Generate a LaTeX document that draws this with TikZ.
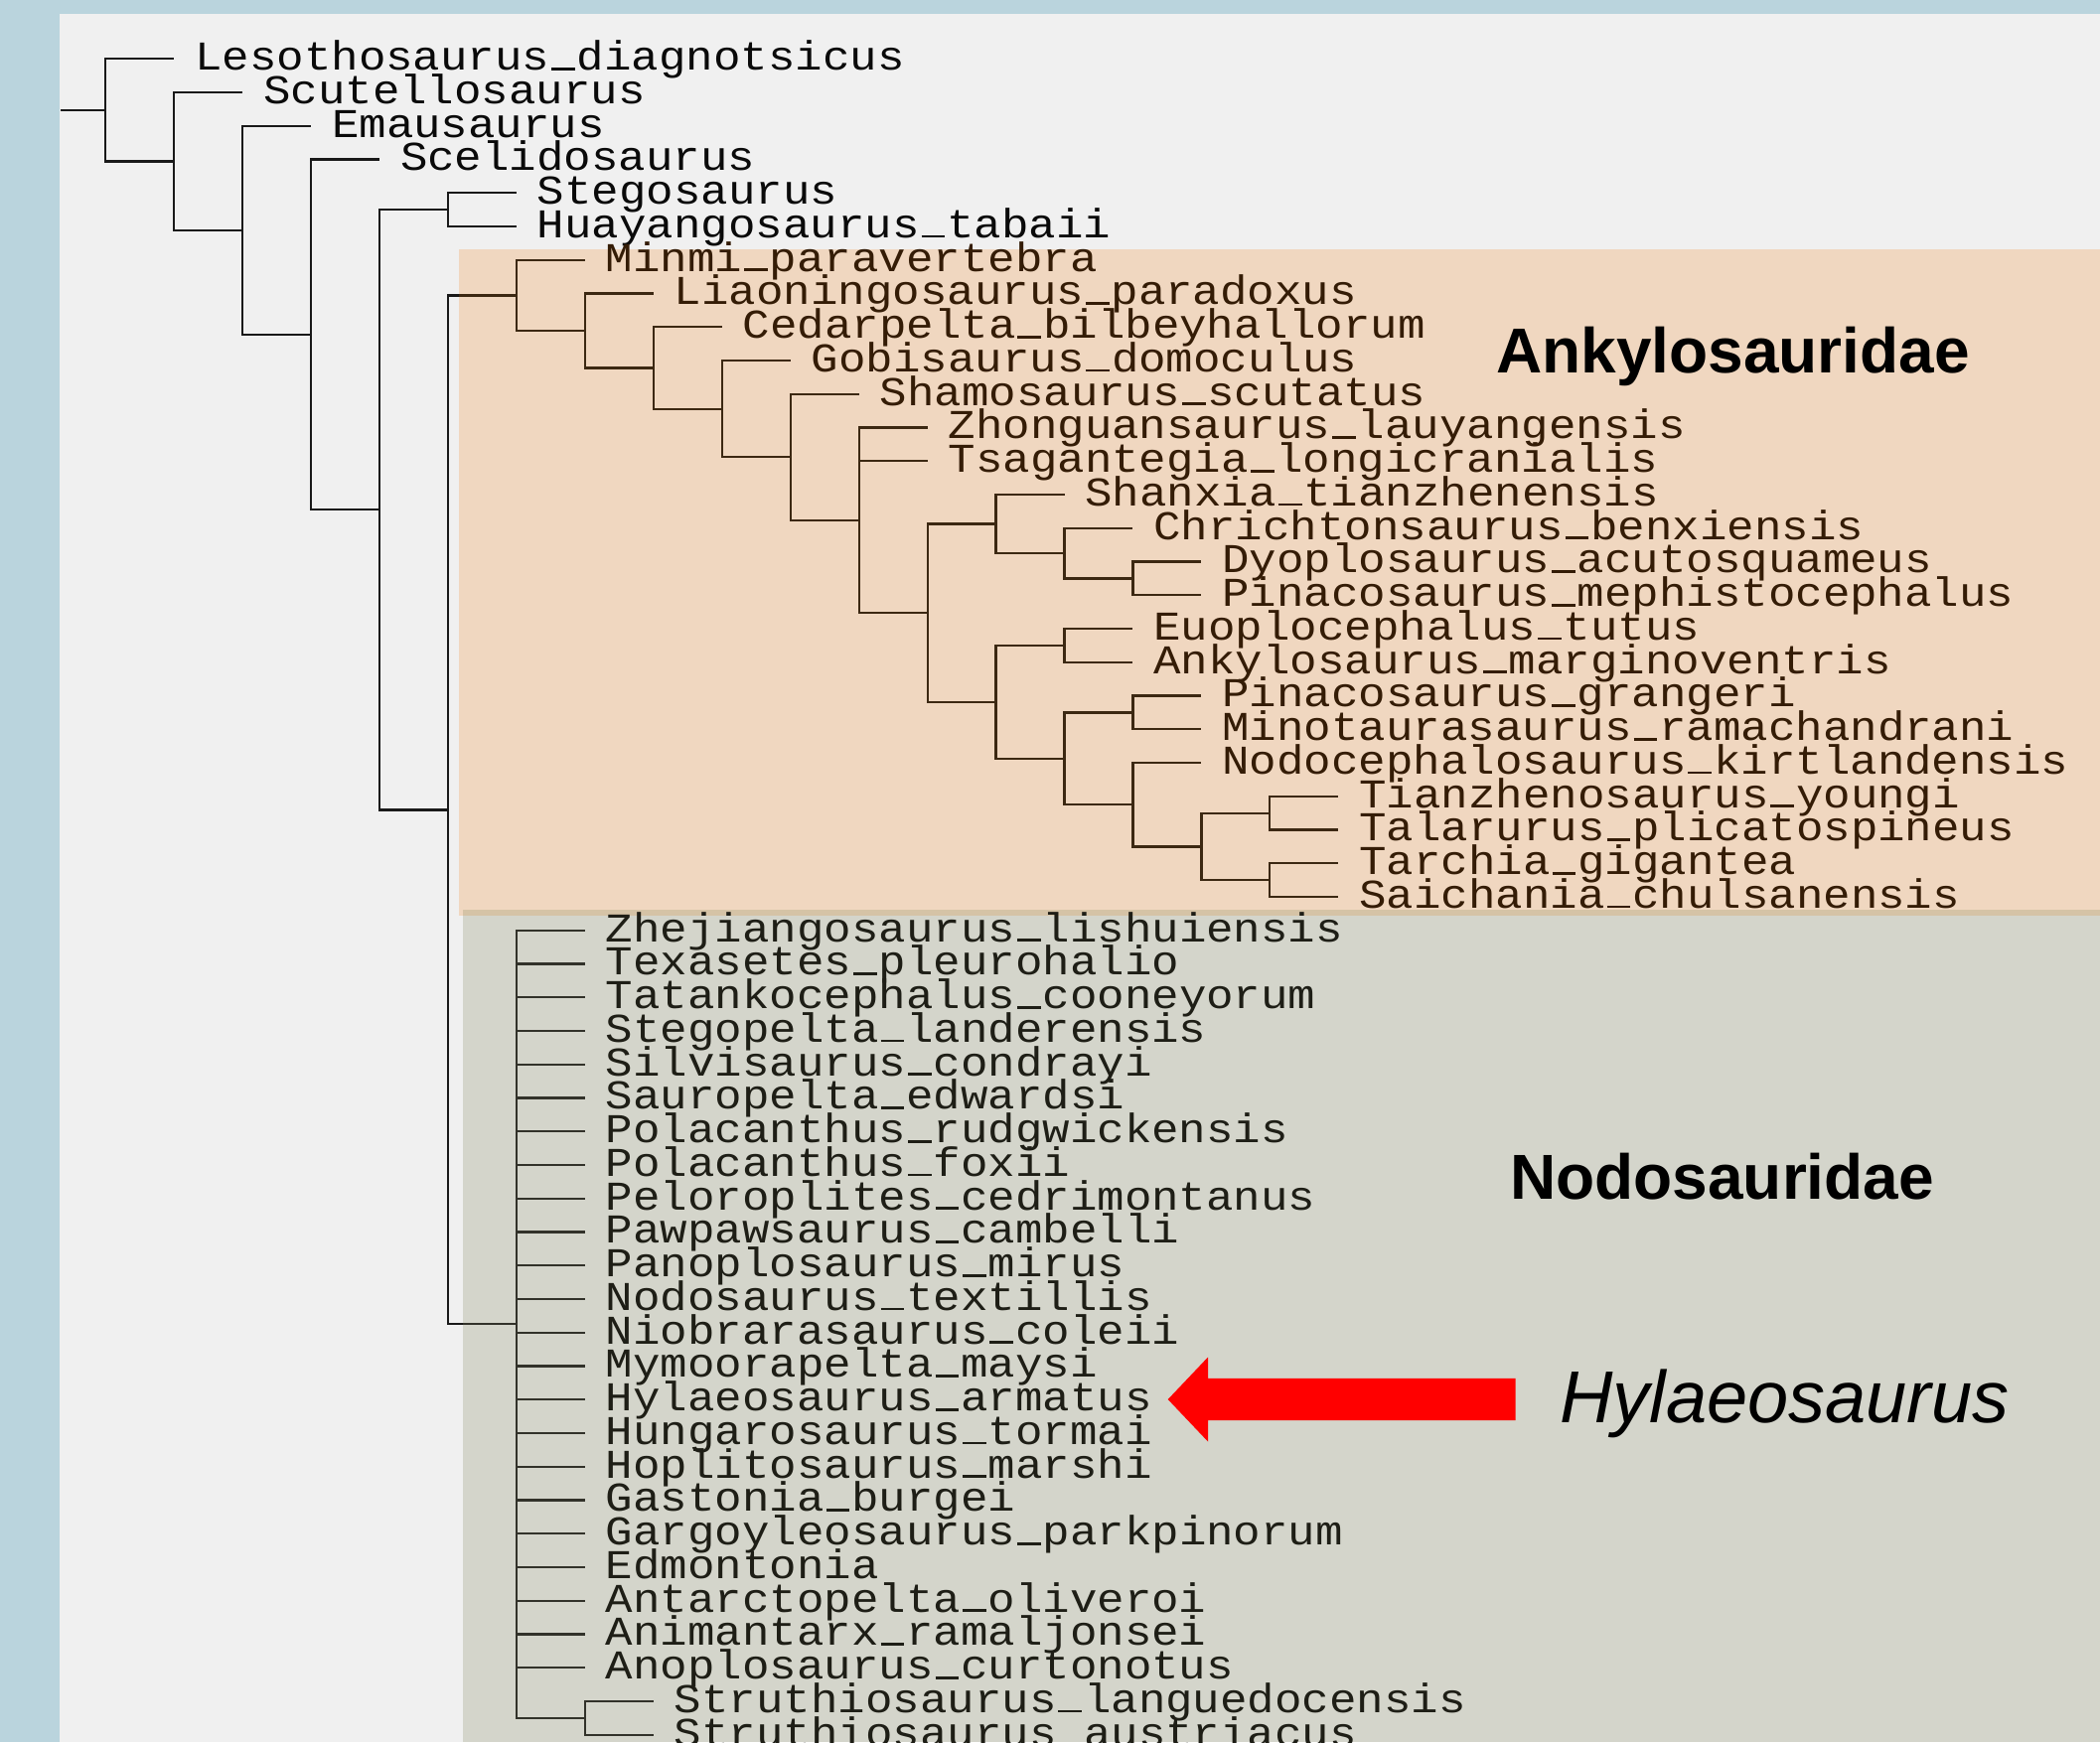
\documentclass[tikz,border=0pt]{standalone}
\usepackage{fontspec}
\usepackage{graphicx}
\setmainfont{Liberation Sans}
\newfontfamily\treemono{Liberation Mono}
\usetikzlibrary{calc}

\definecolor{bordblue}{RGB}{186,212,221}
\definecolor{panel}{RGB}{240,240,240}
\definecolor{ankbg}{RGB}{240,215,192}
\definecolor{nodbg}{RGB}{212,213,203}
\definecolor{overlapbg}{RGB}{213,195,166}
\definecolor{inktop}{RGB}{10,10,10}
\definecolor{inkank}{RGB}{52,28,6}
\definecolor{inknod}{RGB}{30,30,22}
\definecolor{linetop}{RGB}{25,25,25}
\definecolor{lineank}{RGB}{60,40,18}
\definecolor{linenod}{RGB}{50,50,42}
\definecolor{arrowred}{RGB}{255,0,0}

\newcommand\LV[1]{106.2+(#1-1)*68.95}
\newcommand\RW[1]{59.3+(#1-1)*33.75}
% taxon text: underscore drawn as a bar sitting on the baseline
\newcommand\baseus{\makebox[0.6em][c]{\rule{0.52em}{3pt}}}
\newcommand\taxtext[1]{\begingroup\let\_\baseus\scalebox{1}[0.9]{#1}\endgroup}
% leaf: name, level of line end, row, text
\newcommand\tip[4]{%
  \coordinate (#1) at ({\LV{#2}},{\RW{#3}});
  \node[curtax] (#1-t) at ($(#1)+(21,11.3)$) {\taxtext{#4}};}
% clade: name, first child, last child
\newcommand\clade[3]{%
  \coordinate (#1) at ($(#2)!0.5!(#3)+(-68.95,0)$);}

\tikzset{
  taxon/.style={font={\treemono\fontsize{45.8}{50}\selectfont}, anchor=base west, inner sep=0pt, outer sep=0pt},
  branch/.style={line width=2.2pt},
  grouplabel/.style={font={\fontsize{64}{70}\selectfont\bfseries}, anchor=base west, inner sep=0pt, text=black},
  genuslabel/.style={font={\fontsize{74}{80}\selectfont\itshape}, anchor=base west, inner sep=0pt, text=black},
}

\begin{document}
\begin{tikzpicture}[x=1pt,y=-1pt]
\useasboundingbox (0,0) rectangle (2114,1754);
% backgrounds
\fill[bordblue] (0,0) rectangle (2114,1754);
\fill[panel] (60,14) rectangle (2114,1754);
\fill[ankbg] (462,251) rectangle (2114,922);
\fill[nodbg] (466,916) rectangle (2114,1754);
\fill[overlapbg] (466,916) rectangle (2114,922);

% ---- leaves: outgroups
\tikzset{curtax/.style={taxon,text=inktop}}
\tip{leso}{2}{1}{Lesothosaurus\_diagnotsicus}
\tip{scut}{3}{2}{Scutellosaurus}
\tip{emau}{4}{3}{Emausaurus}
\tip{sceli}{5}{4}{Scelidosaurus}
\tip{stego}{7}{5}{Stegosaurus}
\tip{huay}{7}{6}{Huayangosaurus\_tabaii}

% ---- leaves: Ankylosauridae
\tikzset{curtax/.style={taxon,text=inkank}}
\tip{minmi}{8}{7}{Minmi\_paravertebra}
\tip{liao}{9}{8}{Liaoningosaurus\_paradoxus}
\tip{cedar}{10}{9}{Cedarpelta\_bilbeyhallorum}
\tip{gobi}{11}{10}{Gobisaurus\_domoculus}
\tip{shamo}{12}{11}{Shamosaurus\_scutatus}
\tip{zhong}{13}{12}{Zhonguansaurus\_lauyangensis}
\tip{tsag}{13}{13}{Tsagantegia\_longicranialis}
\tip{shanx}{15}{14}{Shanxia\_tianzhenensis}
\tip{chri}{16}{15}{Chrichtonsaurus\_benxiensis}
\tip{dyop}{17}{16}{Dyoplosaurus\_acutosquameus}
\tip{pinm}{17}{17}{Pinacosaurus\_mephistocephalus}
\tip{euop}{16}{18}{Euoplocephalus\_tutus}
\tip{ankm}{16}{19}{Ankylosaurus\_marginoventris}
\tip{ping}{17}{20}{Pinacosaurus\_grangeri}
\tip{mino}{17}{21}{Minotaurasaurus\_ramachandrani}
\tip{nodoc}{17}{22}{Nodocephalosaurus\_kirtlandensis}
\tip{tian}{19}{23}{Tianzhenosaurus\_youngi}
\tip{tala}{19}{24}{Talarurus\_plicatospineus}
\tip{tarc}{19}{25}{Tarchia\_gigantea}
\tip{saic}{19}{26}{Saichania\_chulsanensis}

% ---- leaves: Nodosauridae
\tikzset{curtax/.style={taxon,text=inknod}}
\foreach \nm [count=\i from 27] in {Zhejiangosaurus\_lishuiensis, Texasetes\_pleurohalio,
  Tatankocephalus\_cooneyorum, Stegopelta\_landerensis, Silvisaurus\_condrayi,
  Sauropelta\_edwardsi, Polacanthus\_rudgwickensis, Polacanthus\_foxii,
  Peloroplites\_cedrimontanus, Pawpawsaurus\_cambelli, Panoplosaurus\_mirus,
  Nodosaurus\_textillis, Niobrarasaurus\_coleii, Mymoorapelta\_maysi,
  Hylaeosaurus\_armatus, Hungarosaurus\_tormai, Hoplitosaurus\_marshi,
  Gastonia\_burgei, Gargoyleosaurus\_parkpinorum, Edmontonia,
  Antarctopelta\_oliveroi, Animantarx\_ramaljonsei, Anoplosaurus\_curtonotus}
  {\tip{g\i}{8}{\i}{\nm}}
\tip{s50}{9}{50}{Struthiosaurus\_languedocensis}
\tip{s51}{9}{51}{Struthiosaurus\_austriacus}

% ---- internal nodes
\clade{K17}{tarc}{saic}
\clade{K16}{tian}{tala}
\clade{K15}{K16}{K17}
\clade{K14}{nodoc}{K15}
\clade{K13}{ping}{mino}
\clade{K12}{K13}{K14}
\clade{K11}{euop}{ankm}
\clade{K10}{K11}{K12}
\clade{K9}{dyop}{pinm}
\clade{K8}{chri}{K9}
\clade{K7}{shanx}{K8}
\clade{K6}{K7}{K10}
\clade{K5}{zhong}{K6}
\clade{K4}{shamo}{K5}
\clade{K3}{gobi}{K4}
\clade{K2}{cedar}{K3}
\clade{K1}{liao}{K2}
\clade{K0}{minmi}{K1}
\clade{N1}{s50}{s51}
\clade{N0}{g27}{N1}
\clade{AK}{K0}{N0}
\clade{S}{stego}{huay}
\clade{D}{S}{AK}
\clade{C}{sceli}{D}
\clade{B}{emau}{C}
\clade{A}{scut}{B}
\clade{R}{leso}{A}
\coordinate (R0) at ($(R)+(-45.2,0)$);

% ---- branches: outer part
\begin{scope}[branch, draw=linetop]
\draw (R0) -- (R);
\draw (R) |- (leso); \draw (R) |- (A);
\draw (A) |- (scut); \draw (A) |- (B);
\draw (B) |- (emau); \draw (B) |- (C);
\draw (C) |- (sceli); \draw (C) |- (D);
\draw (D) |- (S); \draw (D) |- (AK);
\draw (S) |- (stego); \draw (S) |- (huay);
\draw (AK) |- (K0); \draw (AK) |- (N0);
\end{scope}
\begin{scope}
\clip (462,251) rectangle (2114,922);
\draw[branch, draw=lineank] (AK) |- (K0);
\end{scope}
\begin{scope}
\clip (466,922) rectangle (2114,1754);
\draw[branch, draw=linenod] (AK) |- (N0);
\end{scope}

% ---- branches: Ankylosauridae
\begin{scope}[branch, draw=lineank]
\draw (K0) |- (minmi); \draw (K0) |- (K1);
\draw (K1) |- (liao); \draw (K1) |- (K2);
\draw (K2) |- (cedar); \draw (K2) |- (K3);
\draw (K3) |- (gobi); \draw (K3) |- (K4);
\draw (K4) |- (shamo); \draw (K4) |- (K5);
\draw (K5) |- (zhong); \draw (K5) |- (tsag); \draw (K5) |- (K6);
\draw (K6) |- (K7); \draw (K6) |- (K10);
\draw (K7) |- (shanx); \draw (K7) |- (K8);
\draw (K8) |- (chri); \draw (K8) |- (K9);
\draw (K9) |- (dyop); \draw (K9) |- (pinm);
\draw (K10) |- (K11); \draw (K10) |- (K12);
\draw (K11) |- (euop); \draw (K11) |- (ankm);
\draw (K12) |- (K13); \draw (K12) |- (K14);
\draw (K13) |- (ping); \draw (K13) |- (mino);
\draw (K14) |- (nodoc); \draw (K14) |- (K15);
\draw (K15) |- (K16); \draw (K15) |- (K17);
\draw (K16) |- (tian); \draw (K16) |- (tala);
\draw (K17) |- (tarc); \draw (K17) |- (saic);
\end{scope}

% ---- branches: Nodosauridae
\begin{scope}[branch, draw=linenod]
\foreach \i in {27,...,49} {\draw (N0) |- (g\i);}
\draw (N0) |- (N1);
\draw (N1) |- (s50); \draw (N1) |- (s51);
\end{scope}

% ---- labels
\node[grouplabel] (ankl) at (1506,375.7) {Ankylosauridae};
\node[grouplabel] (nodl) at (1520,1207.3) {Nodosauridae};
\node[genuslabel] (hyll) at (1570,1432.3) {Hylaeosaurus};

% ---- red pointer arrow
\coordinate (arrtip) at (1175.7,1409);
\fill[arrowred] (arrtip) -- (1216,1366.5) -- (1216,1387.8) -- (1525.5,1387.8)
  -- (1525.5,1430.2) -- (1216,1430.2) -- (1216,1451.5) -- cycle;
\end{tikzpicture}
\end{document}
